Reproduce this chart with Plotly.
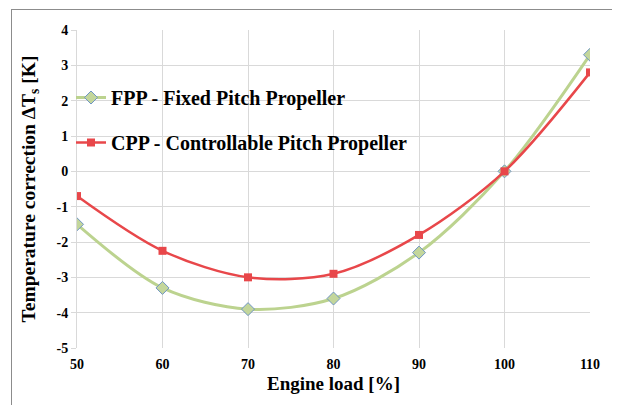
import plotly.graph_objects as go

engine_load = [50, 60, 70, 80, 90, 100, 110]
fpp_values = [-1.5, -3.3, -3.9, -3.6, -2.3, 0.0, 3.3]
cpp_values = [-0.7, -2.25, -3.0, -2.9, -1.8, 0.0, 2.8]
fpp_name = "FPP - Fixed Pitch Propeller"
cpp_name = "CPP - Controllable Pitch Propeller"
x_ticks = [50, 60, 70, 80, 90, 100, 110]
y_ticks = [-5, -4, -3, -2, -1, 0, 1, 2, 3, 4]

FONT = "Liberation Serif"
OFF = 8  # default page body margin
W, H = 612, 397
# target plot area in window pixels
PL, PR, PT, PB = 77, 590, 30, 348
L = PL - OFF
T = PT - OFF
R = W - (PR - OFF)
B = H - (PB - OFF)
pw, ph = PR - PL, PB - PT

fig = go.Figure()
fig.add_trace(go.Scatter(
    x=engine_load, y=fpp_values, name=fpp_name, mode="lines+markers",
    legendgroup="fpp",
    line=dict(color="#bcd38f", width=3, shape="spline", smoothing=0.9),
    marker=dict(symbol="diamond", size=10, color="#c3d69b",
                line=dict(color="#6f95c4", width=1)),
))
fig.add_trace(go.Scatter(
    x=engine_load, y=cpp_values, name=cpp_name, mode="lines+markers",
    legendgroup="cpp",
    line=dict(color="#e8474a", width=2.5, shape="spline", smoothing=0.9),
    marker=dict(symbol="square", size=8, color="#e8474a"),
))

def px_to_paper_x(px):
    return (px - PL) / pw

def px_to_paper_y(py):
    return (PB - py) / ph

fig.update_layout(
    width=W, height=H,
    margin=dict(l=L, r=R, t=T, b=B, autoexpand=False),
    paper_bgcolor="white", plot_bgcolor="white",
    font=dict(family=FONT, color="black"),
    showlegend=True,
    legend=dict(
        x=px_to_paper_x(71), y=px_to_paper_y(78), xanchor="left", yanchor="top",
        bgcolor="rgba(0,0,0,0)", tracegroupgap=16, itemwidth=30,
        font=dict(family=FONT, size=20, color="black", weight="bold"),
        itemsizing="trace",
    ),
    xaxis=dict(
        range=[50, 110], tickvals=x_ticks, ticktext=[str(v) for v in x_ticks],
        showgrid=True, gridcolor="#d9d9d9", gridwidth=1,
        zeroline=False, showline=False, automargin=False,
        tickfont=dict(family=FONT, size=14, weight="bold"),
        ticks="", ticklabelstandoff=6,
        title=dict(text="<b>Engine load [%]</b>", font=dict(family=FONT, size=19), standoff=5),
    ),
    yaxis=dict(
        range=[-5, 4], tickvals=y_ticks, ticktext=[str(v) for v in y_ticks],
        showgrid=True, gridcolor="#d9d9d9", gridwidth=1,
        zeroline=False, showline=True, linecolor="#d9d9d9", automargin=False,
        ticks="outside", ticklen=5, tickcolor="#d9d9d9",
        tickfont=dict(family=FONT, size=14, weight="bold"),
        title=dict(text="<b>Temperature correction ΔT<sub>s</sub> [K]</b>",
                   font=dict(family=FONT, size=19.5), standoff=15),
    ),
    shapes=[
        dict(type="line", xref="paper", yref="paper",
             x0=px_to_paper_x(11), x1=px_to_paper_x(625),
             y0=px_to_paper_y(9.5), y1=px_to_paper_y(9.5),
             line=dict(color="#8c8c8c", width=1)),
        dict(type="line", xref="paper", yref="paper",
             x0=px_to_paper_x(11.5), x1=px_to_paper_x(11.5),
             y0=px_to_paper_y(9.5), y1=px_to_paper_y(410),
             line=dict(color="#8c8c8c", width=1)),
    ],
)

fig.write_html("out.html")
